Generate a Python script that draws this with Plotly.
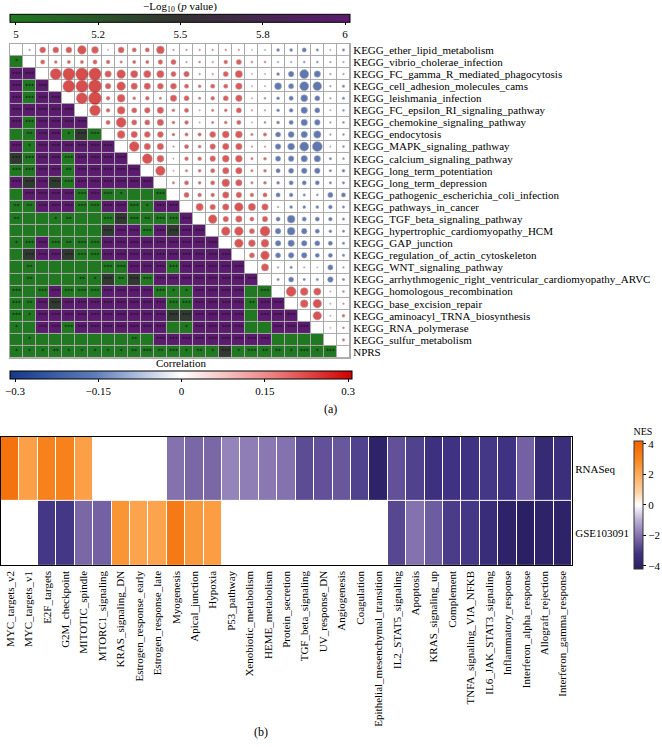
import plotly.graph_objects as go

# ---------------- Panel (a) data ----------------
pathways = [
    "KEGG_ether_lipid_metabolism", "KEGG_vibrio_cholerae_infection",
    "KEGG_FC_gamma_R_mediated_phagocytosis", "KEGG_cell_adhesion_molecules_cams",
    "KEGG_leishmania_infection", "KEGG_FC_epsilon_RI_signaling_pathway",
    "KEGG_chemokine_signaling_pathway", "KEGG_endocytosis",
    "KEGG_MAPK_signaling_pathway", "KEGG_calcium_signaling_pathway",
    "KEGG_long_term_potentiation", "KEGG_long_term_depression",
    "KEGG_pathogenic_escherichia_coli_infection", "KEGG_pathways_in_cancer",
    "KEGG_TGF_beta_signaling_pathway", "KEGG_hypertrophic_cardiomyopathy_HCM",
    "KEGG_GAP_junction", "KEGG_regulation_of_actin_cytoskeleton",
    "KEGG_WNT_signaling_pathway",
    "KEGG_arrhythmogenic_right_ventricular_cardiomyopathy_ARVC",
    "KEGG_homologous_recombination", "KEGG_base_excision_repair",
    "KEGG_aminoacyl_TRNA_biosynthesis", "KEGG_RNA_polymerase",
    "KEGG_sulfur_metabolism", "NPRS",
]

# correlation, upper triangle: row i holds columns j = i+1 .. n-1
corr_upper = [
    [0.04, 0.14, 0.14, 0.14, 0.2, 0.16, 0.01, 0.14, 0.1, 0.1, 0.18, 0.04, 0.04, 0.04, 0.04, 0.045, 0.04, 0.01, -0.02, -0.07, -0.07, -0.1, -0.06, -0.02, -0.06],
    [0.1, 0.07, 0.08, 0.08, 0.1, 0.09, 0.06, 0.08, 0.08, 0.11, 0.12, 0.04, 0.05, 0.04, 0.09, 0.12, 0.05, 0.05, -0.04, -0.04, -0.05, -0.05, -0.04, -0.04],
    [0.26, 0.28, 0.29, 0.29, 0.15, 0.2, 0.17, 0.17, 0.17, 0.12, 0.13, 0.04, 0.04, 0.12, 0.17, 0.02, -0.02, -0.07, -0.13, -0.21, -0.15, -0.04, -0.04],
    [0.28, 0.28, 0.3, 0.13, 0.2, 0.15, 0.15, 0.14, 0.14, 0.1, 0.07, 0.1, 0.1, 0.15, 0.02, -0.02, -0.16, -0.12, -0.21, -0.2, -0.04, -0.06],
    [0.26, 0.3, 0.09, 0.18, 0.07, 0.09, 0.06, 0.15, 0.12, 0.06, 0.09, 0.12, 0.15, 0.02, -0.05, -0.07, -0.1, -0.16, -0.12, -0.04, -0.06],
    [0.25, 0.09, 0.18, 0.12, 0.13, 0.15, 0.07, 0.1, 0.02, 0.06, 0.07, 0.12, 0.04, -0.04, -0.07, -0.09, -0.15, -0.12, -0.02, -0.05],
    [0.1, 0.23, 0.12, 0.12, 0.15, 0.07, 0.09, 0.02, 0.06, 0.07, 0.1, 0.02, -0.05, -0.07, -0.1, -0.15, -0.13, -0.04, -0.05],
    [0.18, 0.15, 0.14, 0.14, 0.07, 0.08, 0.08, 0.14, 0.16, 0.16, 0.06, 0.08, -0.12, -0.14, -0.15, -0.17, -0.04, -0.05],
    [0.23, 0.15, 0.15, 0.04, 0.1, 0.07, 0.13, 0.15, 0.15, 0.04, 0.04, -0.13, -0.16, -0.21, -0.23, -0.02, -0.05],
    [0.23, 0.16, 0.02, 0.09, 0.09, 0.13, 0.16, 0.16, 0.06, 0.07, -0.12, -0.13, -0.15, -0.15, -0.06, -0.05],
    [0.22, 0.02, 0.06, 0.07, 0.1, 0.15, 0.15, 0.06, 0.07, -0.1, -0.12, -0.13, -0.13, -0.06, -0.07],
    [0.06, 0.1, 0.07, 0.1, 0.18, 0.15, 0.06, 0.07, -0.07, -0.1, -0.1, -0.1, -0.06, -0.06],
    [0.12, 0.09, 0.09, 0.15, 0.13, 0.09, 0.1, -0.1, -0.09, -0.06, -0.05, -0.12, -0.1],
    [0.17, 0.13, 0.15, 0.2, 0.17, 0.15, -0.04, -0.07, -0.07, -0.07, -0.09, -0.06],
    [0.2, 0.13, 0.15, 0.1, 0.13, -0.1, -0.18, -0.1, -0.1, -0.09, -0.06],
    [0.2, 0.2, 0.12, 0.23, -0.13, -0.18, -0.13, -0.1, -0.07, -0.06],
    [0.2, 0.16, 0.18, -0.13, -0.15, -0.13, -0.12, -0.1, -0.06],
    [0.12, 0.2, -0.12, -0.13, -0.13, -0.1, -0.1, -0.06],
    [0.17, -0.04, -0.06, -0.03, -0.01, -0.12, -0.04],
    [-0.06, -0.12, -0.06, -0.06, -0.13, -0.06],
    [0.23, 0.18, 0.17, 0.02, 0.05],
    [0.18, 0.2, 0.02, 0.04],
    [0.2, 0.02, 0.07],
    [0.01, 0.05],
    [0.06],
    [],
]

# -log10(p value), lower triangle: row i holds columns j = 0 .. i-1 (clipped to 5..6)
neglogp_lower = [
    [],
    [5],
    [6, 6],
    [6, 5, 6],
    [6, 5, 6, 6],
    [6, 6, 6, 6, 6],
    [6, 5, 6, 6, 6, 6],
    [5, 5, 6, 6, 5, 5.45, 5],
    [6, 5, 6, 6, 6, 6, 6, 6],
    [5.45, 5, 6, 6, 5, 6, 6, 6, 6],
    [5, 5, 6, 6, 5, 6, 6, 6, 6, 6],
    [6, 5.45, 6, 5.45, 5, 6, 6, 6, 6, 6, 6],
    [5, 6, 6, 6, 6, 5, 6, 5, 5, 5, 5, 5],
    [5, 5, 6, 6, 6, 5, 5, 6, 6, 5, 5, 6, 6],
    [5, 5, 5, 5, 5, 5, 5, 5, 5.45, 5, 5, 5, 5, 6],
    [5, 5, 5, 5, 5, 5, 5, 5.45, 6, 6, 5, 6, 5.45, 6, 6],
    [5, 5, 6, 5, 5, 5, 5, 6, 6, 6, 6, 6, 6, 6, 6, 6],
    [5, 5.45, 6, 6, 5.45, 5, 5, 6, 6, 6, 6, 6, 6, 6, 6, 6, 6],
    [5, 5, 5, 5, 5, 5, 5, 5, 5, 6, 6, 6, 5, 6, 6, 6, 6, 6],
    [5, 5, 5, 5, 5, 5, 5, 5.45, 5, 5.45, 5, 6, 6, 6, 6, 6, 6, 6, 6],
    [5, 5, 5, 6, 5, 5, 5, 6, 6, 6, 6, 5, 5, 5, 6, 6, 6, 6, 5, 5],
    [5, 5, 6, 5.45, 6, 6, 6, 6, 6, 6, 6, 6, 5, 5, 6, 6, 6, 6, 5, 6, 6],
    [5, 5, 6, 6, 6, 6, 6, 6, 6, 6, 6, 6, 5.45, 5.45, 6, 6, 6, 6, 5, 6, 6, 6],
    [5, 5, 6, 6, 5, 6, 6, 6, 6, 6, 6, 6, 5, 5, 6, 6, 6, 6, 5, 5, 6, 6, 6],
    [5, 5, 5, 5, 5, 5, 5, 5, 5, 5, 5, 6, 6, 6, 6, 6, 6, 6, 6, 6, 5, 5, 5, 5],
    [5, 5, 5, 5, 5, 5, 5, 5, 5, 5, 5, 5, 5, 5, 5, 5, 5.45, 5, 5, 5, 5, 5, 5, 5, 5],
]

S3 = "***"
stars_lower = [
    [],
    ["*"],
    [S3, S3],
    [S3, S3, S3],
    [S3, S3, S3, S3],
    [S3, S3, S3, S3, S3],
    [S3, S3, S3, S3, S3, S3],
    ["", "**", S3, S3, "*", S3, S3],
    [S3, "*", S3, S3, S3, S3, S3, S3],
    [S3] * 9,
    [S3, S3, S3, S3, "**", S3, S3, S3, S3, S3],
    [S3] * 11,
    ["", S3, S3, S3, S3, S3, S3, S3, "*", "", "", S3],
    ["**", "**", S3, S3, S3, S3, S3, S3, S3, S3, "*", S3, S3],
    ["**", "", "", "*", "**", "", "", S3, S3, S3, "**", S3, S3, S3],
    ["", "", "", "", "", "", "", S3, S3, S3, S3, S3, S3, S3, S3],
    ["*", S3, S3, S3, "**", S3, S3, S3, S3, S3, S3, S3, S3, S3, S3, S3],
    [""] + [S3] * 16,
    ["", "**", "", "", "", "", "", S3, S3, S3, S3, S3, S3, S3, S3, S3, S3, S3],
    ["", "**", "", "", "", "**", "*", S3, "**", S3, S3, S3, S3, S3, S3, S3, S3, S3, S3],
    [S3, "", S3, S3, S3, S3, S3, S3, S3, S3, S3, S3, "*", "*", S3, S3, S3, S3, "", S3],
    [S3, "**", S3, S3, S3, S3, S3, S3, S3, S3, S3, S3, S3, S3, S3, S3, S3, S3, "**", S3, S3],
    [S3, "*", S3, S3, S3, S3, S3, S3, S3, S3, S3, S3, S3, S3, S3, S3, S3, S3, "", S3, S3, S3],
    ["*", "", S3, S3, S3, S3, S3, S3, S3, S3, S3, S3, "", "*", S3, S3, S3, S3, "", "", S3, S3, S3],
    ["", "*", "", "", "", "", "", "", "", "**", "", S3, S3, S3, S3, S3, S3, S3, S3, S3, "", "", "", ""],
    ["*", "*", "*", "**", "*", "*", "*", "*", "*", "**", S3, "**", S3, "*", "**", "*", S3, "*", S3, "**", "**", "*", S3, "*", S3],
]

pval_ticks = [5, 5.25, 5.5, 5.75, 6]
pval_ticktext = ["5", "5.2", "5.5", "5.8", "6"]
corr_ticks = [-0.3, -0.15, 0, 0.15, 0.3]
corr_ticktext = ["\u22120.3", "\u22120.15", "0", "0.15", "0.3"]

# ---------------- Panel (b) data ----------------
hallmarks = [
    "MYC_targets_v2", "MYC_targets_v1", "E2F_targets", "G2M_checkpoint",
    "MITOTIC_spindle", "MTORC1_signaling", "KRAS_signaling_DN",
    "Estrogen_response_early", "Estrogen_response_late", "Myogenesis",
    "Apical_junction", "Hypoxia", "P53_pathway", "Xenobiotic_metabolism",
    "HEME_metabolism", "Protein_secretion", "TGF_beta_signaling",
    "UV_response_DN", "Angiogenesis", "Coagulation",
    "Epithelial_mesenchymal_transition", "IL2_STAT5_signaling", "Apoptosis",
    "KRAS_signaling_up", "Complement", "TNFA_signaling_VIA_NFKB",
    "IL6_JAK_STAT3_signaling", "Inflammatory_response",
    "Interferon_alpha_response", "Allograft_rejection",
    "Interferon_gamma_response",
]
datasets = ["RNASeq", "GSE103091"]
nes_rnaseq = [3.6, 2.3, 3.1, 3.1, 2.3, None, None, None, None,
              -2.0, -2.2, -2.2, -1.7, -1.8, -1.9, -2.0, -2.7, -2.6, -2.5, -2.9,
              -4.0, -2.6, -2.9, -3.3, -3.2, -3.2, -3.1, -3.2, -2.3, -3.6, -3.4]
nes_gse = [None, None, -3.1, -3.1, -2.2, -2.3, 2.6, 2.2, 2.2, 3.4, 2.5, 2.4,
           None, None, None, None, None, None, None, None, None,
           -2.8, -2.0, -2.4, -3.0, -3.1, -3.5, -4.0, -4.1, -4.0, -4.0]
nes_ticks = [-4, -2, 0, 2, 4]

# ---------------- styling ----------------
W, H = 662, 747
SERIF = "Liberation Serif"
n = len(pathways)

def px_x(p):
    return p / W

def px_y(p):
    return 1 - p / H

pval_scale = [[0, "#1F7A1F"], [0.5, "#333333"], [1, "#5C1A70"]]
corr_bar_scale = [[0, "#15398A"], [0.25, "#5E7DBA"], [0.5, "#FFFFFF"],
                  [0.75, "#EE8A8A"], [1, "#D00000"]]
corr_marker_scale = [[0, "#1A3A86"], [0.38, "#21449A"], [0.46, "#5F7FC0"],
                     [0.5, "#E6E6E6"], [0.54, "#E05A5A"], [0.62, "#D41E1E"],
                     [1, "#C80000"]]
nes_scale = [[0, "#2A1E62"], [0.12, "#3F3282"], [0.25, "#7F6CAA"],
             [0.38, "#B9AED3"], [0.5, "#FFFFFF"], [0.6, "#FDD3A5"],
             [0.76, "#FCA54E"], [0.86, "#F8841E"], [1, "#F06200"]]

# matrices
z_low = [[None] * n for _ in range(n)]
z_up = [[None] * n for _ in range(n)]
z_base = [[0] * n for _ in range(n)]
for i in range(n):
    for j, v in enumerate(neglogp_lower[i]):
        z_low[i][j] = v
    for j in range(i, n):
        z_up[i][j] = 1

cx, cy, cval, csize = [], [], [], []
for i, row in enumerate(corr_upper):
    for k, r in enumerate(row):
        j = i + 1 + k
        cx.append(j)
        cy.append(i)
        cval.append(r)
        csize.append(max(1.5, 13.0 * abs(r) / 0.3))

sx, sy, st = [], [], []
for i, row in enumerate(stars_lower):
    for j, s in enumerate(row):
        if s:
            sx.append(j)
            sy.append(i)
            st.append(s)

fig = go.Figure()

fig.add_trace(go.Heatmap(z=z_base, colorscale=[[0, "#A9A9A9"], [1, "#A9A9A9"]],
                         showscale=False, hoverinfo="skip", xaxis="x", yaxis="y"))
fig.add_trace(go.Heatmap(z=z_up, colorscale=[[0, "#FFFFFF"], [1, "#FFFFFF"]],
                         showscale=False, xgap=1, ygap=1, hoverinfo="skip",
                         xaxis="x", yaxis="y"))
fig.add_trace(go.Heatmap(
    z=z_low, zmin=4.982, zmax=6.015, colorscale=pval_scale, xgap=1, ygap=1,
    xaxis="x", yaxis="y",
    colorbar=dict(
        orientation="h", x=px_x(10), xanchor="left", len=340 / W,
        y=px_y(-2), yanchor="top", thickness=8, xpad=0, ypad=0,
        outlinecolor="black", outlinewidth=1,
        tickvals=pval_ticks, ticktext=pval_ticktext, ticks="outside",
        ticklen=3, tickcolor="black",
        tickfont=dict(family=SERIF, size=11, color="black"),
        title=dict(text="\u2212Log<sub>10</sub> (<i>p</i> value)", side="top",
                   font=dict(family=SERIF, size=11, color="black")),
    ),
))
fig.add_trace(go.Scatter(
    x=cx, y=cy, mode="markers", xaxis="x", yaxis="y", hoverinfo="skip",
    marker=dict(size=csize, color=cval, cmin=-0.3, cmax=0.3,
                colorscale=corr_marker_scale, showscale=False,
                line=dict(color="#9A9A9A", width=0.6)),
    showlegend=False,
))
fig.add_trace(go.Scatter(
    x=sx, y=sy, mode="text", text=st, xaxis="x", yaxis="y", hoverinfo="skip",
    textfont=dict(family="DejaVu Sans", size=6, color="#111111"),
    textposition="middle center", showlegend=False,
))
# colour bar for correlation
fig.add_trace(go.Scatter(
    x=[None], y=[None], mode="markers", xaxis="x", yaxis="y", showlegend=False,
    marker=dict(color=[0], cmin=-0.309, cmax=0.307, colorscale=corr_bar_scale,
                showscale=True,
                colorbar=dict(
                    orientation="h", x=px_x(10), xanchor="left", len=342 / W,
                    y=px_y(358), yanchor="top", thickness=8, xpad=0, ypad=0,
                    outlinecolor="black", outlinewidth=1,
                    tickvals=corr_ticks, ticktext=corr_ticktext,
                    ticks="outside", ticklen=3, tickcolor="black",
                    tickfont=dict(family=SERIF, size=11, color="black"),
                    title=dict(text="Correlation", side="top",
                               font=dict(family=SERIF, size=11, color="black")),
                )),
))

# Panel (b)
fig.add_trace(go.Heatmap(
    z=[nes_rnaseq, nes_gse], x=list(range(len(hallmarks))), y=[0, 1],
    zmin=-4.2, zmax=4.2, colorscale=nes_scale, xgap=1, ygap=1,
    xaxis="x2", yaxis="y2",
    colorbar=dict(
        x=px_x(634), xanchor="left", y=px_y(424), yanchor="top",
        len=144 / H, thickness=9, xpad=0, ypad=0,
        outlinecolor="#333333", outlinewidth=1,
        tickvals=nes_ticks, ticks="outside", ticklen=3, tickcolor="black",
        tickfont=dict(family=SERIF, size=11, color="black"),
        title=dict(text="NES", side="top",
                   font=dict(family=SERIF, size=10, color="black")),
    ),
))

fig.update_layout(
    width=W, height=H, margin=dict(l=0, r=0, t=0, b=0),
    paper_bgcolor="white", plot_bgcolor="white", showlegend=False,
    font=dict(family=SERIF, size=11, color="black"),
    xaxis=dict(domain=[px_x(10), px_x(350)], range=[-0.5, n - 0.5],
               showticklabels=False, showgrid=False, zeroline=False,
               showline=True, mirror=True, linecolor="#A9A9A9", linewidth=1,
               ticks="", automargin=False),
    yaxis=dict(domain=[px_y(357), px_y(42)], range=[n - 0.5, -0.5],
               tickvals=list(range(n)), ticktext=pathways, side="right",
               showgrid=False, zeroline=False, showline=True, mirror=True,
               linecolor="#A9A9A9", linewidth=1, ticks="",
               tickfont=dict(family=SERIF, size=11, color="black"),
               automargin=False),
    xaxis2=dict(domain=[px_x(1), px_x(572)], range=[-0.5, len(hallmarks) - 0.5],
                anchor="y2", tickvals=list(range(len(hallmarks))),
                ticktext=hallmarks, tickangle=-90, showgrid=False,
                zeroline=False, showline=True, mirror=True, linecolor="black",
                linewidth=1, ticks="",
                tickfont=dict(family=SERIF, size=11, color="black"),
                automargin=False),
    yaxis2=dict(domain=[px_y(565), px_y(436)], range=[1.5, -0.5], anchor="x2",
                tickvals=[0, 1], ticktext=datasets, side="right",
                showgrid=False, zeroline=False, showline=True, mirror=True,
                linecolor="black", linewidth=1, ticks="",
                tickfont=dict(family=SERIF, size=11, color="black"),
                automargin=False),
    annotations=[
        dict(text="(a)", x=px_x(330), y=px_y(408), xref="paper", yref="paper",
             showarrow=False, font=dict(family=SERIF, size=12)),
        dict(text="(b)", x=px_x(261), y=px_y(741), xref="paper", yref="paper",
             showarrow=False, font=dict(family=SERIF, size=12)),
    ],
)

fig.write_html("out.html",
               config={"displayModeBar": False},
               post_script="document.body.style.margin='0px';"
                           "document.body.style.overflow='hidden';")
